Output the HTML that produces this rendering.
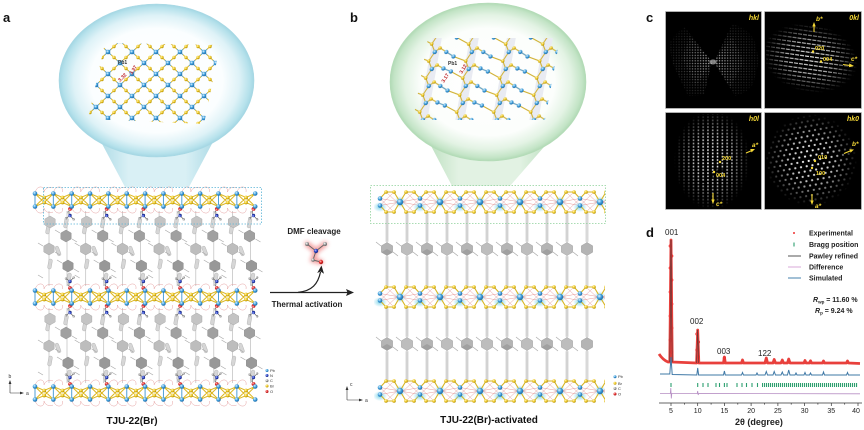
<!DOCTYPE html>
<html><head><meta charset="utf-8"><style>
html,body{margin:0;padding:0;background:#fff;}
svg{display:block;}
</style></head><body>
<svg xmlns="http://www.w3.org/2000/svg" width="864" height="430" viewBox="0 0 864 430" font-family="'Liberation Sans', Arial, sans-serif">
<defs>
<radialGradient id="gPb" cx="0.38" cy="0.35" r="0.7"><stop offset="0" stop-color="#e0f4ff"/><stop offset="0.5" stop-color="#3f9fdc"/><stop offset="1" stop-color="#1a64a0"/></radialGradient>
<radialGradient id="gBr" cx="0.38" cy="0.35" r="0.7"><stop offset="0" stop-color="#fff8c0"/><stop offset="0.5" stop-color="#efc824"/><stop offset="1" stop-color="#a88600"/></radialGradient>
<radialGradient id="gO" cx="0.38" cy="0.35" r="0.7"><stop offset="0" stop-color="#ffc0c0"/><stop offset="0.5" stop-color="#e02828"/><stop offset="1" stop-color="#9a1010"/></radialGradient>
<radialGradient id="gN" cx="0.38" cy="0.35" r="0.7"><stop offset="0" stop-color="#b8c4ff"/><stop offset="0.5" stop-color="#2b44c4"/><stop offset="1" stop-color="#141f70"/></radialGradient>
<radialGradient id="gC" cx="0.38" cy="0.35" r="0.7"><stop offset="0" stop-color="#ffffff"/><stop offset="0.5" stop-color="#a0a0a0"/><stop offset="1" stop-color="#5c5c5c"/></radialGradient>
<radialGradient id="gGlow"><stop offset="0" stop-color="#6fd0e6" stop-opacity="0.85"/><stop offset="1" stop-color="#6fd0e6" stop-opacity="0"/></radialGradient>
<radialGradient id="bubA" cx="0.5" cy="0.5" r="0.5"><stop offset="0" stop-color="#ffffff"/><stop offset="0.68" stop-color="#fbfeff"/><stop offset="0.85" stop-color="#def2f7"/><stop offset="0.96" stop-color="#b5e1eb"/><stop offset="1" stop-color="#a3d6e3"/></radialGradient>
<radialGradient id="bubB" cx="0.5" cy="0.5" r="0.5"><stop offset="0" stop-color="#ffffff"/><stop offset="0.68" stop-color="#fcfefc"/><stop offset="0.85" stop-color="#e3f3e4"/><stop offset="0.96" stop-color="#c3e4c6"/><stop offset="1" stop-color="#b0d9b4"/></radialGradient>
<linearGradient id="tailA" x1="0" y1="0" x2="1" y2="0"><stop offset="0" stop-color="#aedbe6"/><stop offset="0.25" stop-color="#d9f0f5"/><stop offset="0.75" stop-color="#d9f0f5"/><stop offset="1" stop-color="#aedbe6"/></linearGradient>
<linearGradient id="tailB" x1="0" y1="0" x2="1" y2="0"><stop offset="0" stop-color="#bde0c0"/><stop offset="0.25" stop-color="#e2f2e3"/><stop offset="0.75" stop-color="#e2f2e3"/><stop offset="1" stop-color="#bde0c0"/></linearGradient>
<radialGradient id="fade"><stop offset="0" stop-color="#fff"/><stop offset="0.5" stop-color="#bbb"/><stop offset="1" stop-color="#000"/></radialGradient>
<radialGradient id="fade2"><stop offset="0" stop-color="#fff"/><stop offset="0.4" stop-color="#999"/><stop offset="1" stop-color="#222"/></radialGradient>
<filter id="blur" x="-50%" y="-50%" width="200%" height="200%"><feGaussianBlur stdDeviation="2"/></filter>

<path id="hex" d="M0,-6L5.2,-3L5.2,3L0,6L-5.2,3L-5.2,-3Z"/>
<path id="hexB" d="M0,-6.5L5.63,-3.25L5.63,3.25L0,6.5L-5.63,3.25L-5.63,-3.25Z"/>
<rect id="cap" x="-1.8" y="-5" width="3.6" height="10" rx="1.8"/>

<!-- bubble a lattice -->
<pattern id="pA" patternUnits="userSpaceOnUse" width="24" height="22" x="108" y="52">
<path d="M0,0L24,22M24,0L0,22" stroke="#d5b225" stroke-width="1"/>
<path d="M0,0L3,2.75M12,11L9,8.25M12,11L15,13.75M24,22L21,19.25M24,0L21,2.75M12,11L15,8.25M12,11L9,13.75M0,22L3,19.25" stroke="#5aa5da" stroke-width="1"/>
<circle cx="6" cy="5.5" r="1.7" fill="url(#gBr)"/><circle cx="18" cy="5.5" r="1.7" fill="url(#gBr)"/>
<circle cx="6" cy="16.5" r="1.7" fill="url(#gBr)"/><circle cx="18" cy="16.5" r="1.7" fill="url(#gBr)"/>
<circle cx="0" cy="0" r="2.3" fill="url(#gPb)"/><circle cx="24" cy="0" r="2.3" fill="url(#gPb)"/>
<circle cx="0" cy="22" r="2.3" fill="url(#gPb)"/><circle cx="24" cy="22" r="2.3" fill="url(#gPb)"/>
<circle cx="12" cy="11" r="2.3" fill="url(#gPb)"/>
</pattern>

<!-- bubble b lattice -->
<pattern id="pB" patternUnits="userSpaceOnUse" width="37" height="34" x="436.5" y="40" patternTransform="skewX(-10)">
<rect x="3" y="0" width="9" height="34" fill="#e9ebf2"/>
<path d="M3,4L7.5,12L12,8M7.5,12L3,21L7.5,29L12,25M7.5,29L3,38M7.5,-5L3,4" stroke="#cfae2c" stroke-width="1" fill="none"/>
<path d="M12,8L19,12L27,16.5L40,21M-25,8L-18,12L-10,16.5L3,21M12,25L19,28.5L27,31.5L40,38M-25,-9L-18,-5.5L-10,-2.5L3,4M27,-2.5L40,4" stroke="#cfae2c" stroke-width="1" fill="none"/>
<path d="M19,12L27,16.5M19,28.5L27,31.5" stroke="#5a9fd3" stroke-width="1"/>
<circle cx="3" cy="4" r="1.7" fill="url(#gBr)"/><circle cx="12" cy="8" r="1.7" fill="url(#gBr)"/>
<circle cx="3" cy="21" r="1.7" fill="url(#gBr)"/><circle cx="12" cy="25" r="1.7" fill="url(#gBr)"/>
<circle cx="7.5" cy="12" r="2.2" fill="url(#gPb)"/><circle cx="7.5" cy="29" r="2.2" fill="url(#gPb)"/>
<circle cx="19" cy="12" r="2.1" fill="url(#gPb)"/><circle cx="27" cy="16.5" r="2.1" fill="url(#gPb)"/>
<circle cx="19" cy="28.5" r="2.1" fill="url(#gPb)"/><circle cx="27" cy="31.5" r="2.1" fill="url(#gPb)"/>
</pattern>

<!-- panel c patterns -->
<pattern id="pDot" patternUnits="userSpaceOnUse" width="2.7" height="2.7"><circle cx="1.35" cy="1.35" r="0.7" fill="#fff"/></pattern>
<pattern id="pStreak" patternUnits="userSpaceOnUse" width="5" height="4.2" patternTransform="rotate(8)"><rect x="0" y="1.6" width="4" height="1.1" fill="#fff"/></pattern>
<pattern id="pCol" patternUnits="userSpaceOnUse" width="4.8" height="3.3"><rect x="1.6" y="0.7" width="1.5" height="1.8" fill="#fff"/></pattern>
<pattern id="pHex" patternUnits="userSpaceOnUse" width="5.8" height="9.8" patternTransform="rotate(-10)">
<circle cx="0" cy="0" r="1.15" fill="#fff"/><circle cx="5.8" cy="0" r="1.15" fill="#fff"/><circle cx="2.9" cy="4.9" r="1.15" fill="#fff"/><circle cx="0" cy="9.8" r="1.15" fill="#fff"/><circle cx="5.8" cy="9.8" r="1.15" fill="#fff"/>
</pattern>
<mask id="mK"><ellipse cx="810" cy="58" rx="48" ry="34" transform="rotate(12 810 58)" fill="url(#fade)"/></mask>
<mask id="mH"><ellipse cx="712" cy="160" rx="38" ry="50" fill="url(#fade)"/></mask>
<mask id="mZ"><circle cx="811" cy="160" r="46" fill="url(#fade)"/></mask>
<mask id="mX"><ellipse cx="713" cy="61" rx="48" ry="42" fill="url(#fade2)"/></mask>

<!-- panel a cells -->
<g id="aB">
<path d="M4,-6.5C5,-15 14,-15 13,-8M22.35,-6.5C23,-15 33,-15 31.5,-8M13,-8C14,-12 19,-14 22,-12M4,6.5C5,15 14,15 13,8M22.35,6.5C23,15 33,15 31.5,8M13,8C14,12 19,14 22,12" fill="none" stroke="#e6a0a0" stroke-width="0.5"/>
<path d="M4,-6.5L13.2,-2.5L22.35,-6.5L31.5,-2.5L40.7,-6.5M4,6.5L13.2,2.5L22.35,6.5L31.5,2.5L40.7,6.5M4,-6.5L13.2,2.5L22.35,-6.5L31.5,2.5L40.7,-6.5M4,6.5L13.2,-2.5L22.35,6.5L31.5,-2.5L40.7,6.5" fill="none" stroke="#dcb723" stroke-width="1"/>
<path d="M4,-6.5V6.5M22.35,-6.5V6.5" stroke="#4f9fd6" stroke-width="1"/>
</g>
<g id="aA">
<circle cx="13.2" cy="-2.5" r="1.9" fill="url(#gBr)"/><circle cx="13.2" cy="2.5" r="1.9" fill="url(#gBr)"/>
<circle cx="31.5" cy="-2.5" r="1.9" fill="url(#gBr)"/><circle cx="31.5" cy="2.5" r="1.9" fill="url(#gBr)"/>
<circle cx="4" cy="-6.5" r="2.3" fill="url(#gPb)"/><circle cx="4" cy="6.5" r="2.3" fill="url(#gPb)"/>
<circle cx="22.35" cy="-6.5" r="2.3" fill="url(#gPb)"/><circle cx="22.35" cy="6.5" r="2.3" fill="url(#gPb)"/>
</g>
<g id="aRow">
<use href="#aB" x="31"/><use href="#aB" x="67.7"/><use href="#aB" x="104.4"/><use href="#aB" x="141.1"/><use href="#aB" x="177.8"/><use href="#aB" x="214.5"/>
<use href="#aA" x="31"/><use href="#aA" x="67.7"/><use href="#aA" x="104.4"/><use href="#aA" x="141.1"/><use href="#aA" x="177.8"/><use href="#aA" x="214.5"/>
<circle cx="255.2" cy="-6.5" r="2.3" fill="url(#gPb)"/><circle cx="255.2" cy="6.5" r="2.3" fill="url(#gPb)"/>
</g>
<g id="aO">
<path d="M36,11V86M18,11V86" stroke="#bdbdbd" stroke-width="0.7"/>
<g fill="#d6d6d6" stroke="#adadad" stroke-width="0.4">
<use href="#cap" transform="translate(35,23) rotate(10)"/>
<use href="#cap" transform="translate(38,78) rotate(10)"/>
<use href="#cap" transform="translate(17,29) rotate(10)"/>
<use href="#cap" transform="translate(19,64) rotate(10)"/>
<use href="#cap" transform="translate(27,51) rotate(-20)"/>
</g>
<path d="M29,33L24,30M41,39L46,42M31,63L26,60M43,69L48,72M12,46L7,43M24,52L29,55M12,78L7,75" stroke="#a8a8a8" stroke-width="0.7"/>
<use href="#hex" transform="translate(35,36)" fill="#a0a0a0" stroke="#858585" stroke-width="0.4"/>
<use href="#hex" transform="translate(37,66)" fill="#989898" stroke="#808080" stroke-width="0.4"/>
<use href="#hex" transform="translate(18,49)" fill="#bdbdbd" stroke="#9b9b9b" stroke-width="0.4"/>
<use href="#hex" transform="translate(19,22)" fill="#c4c4c4" stroke="#a0a0a0" stroke-width="0.4"/>
</g>
<g id="aORow">
<use href="#aO" x="31"/><use href="#aO" x="67.7"/><use href="#aO" x="104.4"/><use href="#aO" x="141.1"/><use href="#aO" x="177.8"/><use href="#aO" x="214.5"/>
</g>
<g id="dU">
<path d="M0,-9L-1.6,-12.5L0,-15.5M0,-15.5L-4,-18.5M0,-15.5L3.6,-19.5" stroke="#555" stroke-width="0.6" fill="none"/>
<circle cy="-9" r="1.9" fill="url(#gO)"/>
<circle cx="-1.6" cy="-12.5" r="1.1" fill="url(#gC)"/>
<circle cy="-15.5" r="1.7" fill="url(#gN)"/>
<circle cx="-4" cy="-18.5" r="1.2" fill="url(#gC)"/>
<circle cx="3.6" cy="-19.5" r="1.2" fill="url(#gC)"/>
</g>
<g id="dRow">
<use href="#dU" x="70"/><use href="#dU" x="106.7"/><use href="#dU" x="143.4"/><use href="#dU" x="180.1"/><use href="#dU" x="216.8"/><use href="#dU" x="253.5"/>
</g>

<!-- panel b cells -->
<g id="bB">
<ellipse cx="0" cy="5" rx="7" ry="5" fill="url(#gGlow)"/>
<ellipse cx="20" cy="0" rx="6" ry="6" fill="url(#gGlow)"/>
<path d="M0,-3.5L20,0L40,-3.5M0,3.5L20,0L40,3.5M6,-10L20,3M14,-10L0,3.5M6,10L20,-3M14,10L0,-3.5M26,-10L40,3.5M34,-10L20,3M26,10L40,-3.5M34,10L20,-3" stroke="#e49090" stroke-width="0.45" fill="none"/>
<path d="M0,-3.5L6,-10L14,-10L20,0L26,-10L34,-10L40,-3.5M0,3.5L6,10L14,10L20,0L26,10L34,10L40,3.5" stroke="#d7b424" stroke-width="1.1" fill="none"/>
</g>
<g id="bA">
<circle cx="6" cy="-10" r="1.8" fill="url(#gBr)"/><circle cx="14" cy="-10" r="1.8" fill="url(#gBr)"/><circle cx="26" cy="-10" r="1.8" fill="url(#gBr)"/><circle cx="34" cy="-10" r="1.8" fill="url(#gBr)"/>
<circle cx="6" cy="10" r="1.8" fill="url(#gBr)"/><circle cx="14" cy="10" r="1.8" fill="url(#gBr)"/><circle cx="26" cy="10" r="1.8" fill="url(#gBr)"/><circle cx="34" cy="10" r="1.8" fill="url(#gBr)"/>
<circle cx="0" cy="-3.5" r="2.3" fill="url(#gPb)"/><circle cx="0" cy="3.5" r="2.3" fill="url(#gPb)"/>
<circle cx="20" cy="0" r="3.2" fill="url(#gPb)"/>
</g>
<clipPath id="bclip"><rect x="374" y="-20" width="231" height="40"/></clipPath>
<g id="bRow"><g clip-path="url(#bclip)">
<use href="#bB" x="380"/><use href="#bB" x="420"/><use href="#bB" x="460"/><use href="#bB" x="500"/><use href="#bB" x="540"/><use href="#bB" x="580"/>
<use href="#bA" x="380"/><use href="#bA" x="420"/><use href="#bA" x="460"/><use href="#bA" x="500"/><use href="#bA" x="540"/><use href="#bA" x="580"/>
</g></g>
<g id="bO">
<path d="M7,12V39M7,55V84M27,12V39M27,55V84" stroke="#d9d9d9" stroke-width="3" stroke-linecap="round"/>
<path d="M7,12V39M7,55V84M27,12V39M27,55V84" stroke="#c0c0c0" stroke-width="0.5"/>
<path d="M1,44L-4,40M13,50L18,54M21,44L16,40M33,50L38,54" stroke="#aaa" stroke-width="0.7"/>
<use href="#hexB" transform="translate(7,47)" fill="#b4b4b4" stroke="#979797" stroke-width="0.4"/>
<use href="#hexB" transform="translate(27,47)" fill="#bdbdbd" stroke="#9b9b9b" stroke-width="0.4"/>
<path d="M7,47L12.6,50.25L7,53.5L1.4,50.25Z" fill="#a0a0a0"/>
</g>
<g id="bORow">
<use href="#bO" x="380"/><use href="#bO" x="420"/><use href="#bO" x="460"/><use href="#bO" x="500"/><use href="#bO" x="540"/>
<path d="M587,12V39M587,55V84" stroke="#d9d9d9" stroke-width="3" stroke-linecap="round"/>
<use href="#hexB" transform="translate(587,47)" fill="#b4b4b4" stroke="#979797" stroke-width="0.4"/>
</g>
</defs>

<!-- ================= PANEL A ================= -->
<text x="3" y="22" font-size="13" font-weight="bold" fill="#111">a</text>
<polygon points="100,140 214,140 189,187 125,187" fill="url(#tailA)"/>
<ellipse cx="156.5" cy="80.5" rx="97.5" ry="76.5" fill="url(#bubA)" stroke="#a8d8e4" stroke-width="0.6"/>
<polygon points="105,43 220,45 204,124 88,119" fill="url(#pA)"/>
<text x="118" y="64" font-size="5" font-weight="bold" fill="#333">Pb1</text>
<text transform="translate(120,82) rotate(-45)" font-size="5" font-weight="bold" fill="#c0282d">3.32</text>
<text transform="translate(132,75) rotate(-58)" font-size="5" font-weight="bold" fill="#c0282d">3.37</text>

<use href="#aORow" y="200"/>
<use href="#aORow" y="297"/>
<use href="#dRow" transform="translate(0,297)"/>
<use href="#dRow" transform="translate(0,393)"/>
<use href="#dRow" transform="translate(0,200) scale(1,-1)"/>
<use href="#dRow" transform="translate(0,297) scale(1,-1)"/>
<use href="#aRow" y="200"/>
<use href="#aRow" y="297"/>
<use href="#aRow" y="393"/>
<rect x="43.5" y="187.5" width="218" height="36.5" fill="none" stroke="#5ab4d6" stroke-width="0.8" stroke-dasharray="1.5 1.5"/>

<!-- legend a -->
<g font-size="4" fill="#333">
<circle cx="267" cy="370.5" r="1.5" fill="url(#gPb)"/><text x="270" y="372">Pb</text>
<circle cx="267" cy="375.5" r="1.5" fill="url(#gN)"/><text x="270" y="377">N</text>
<circle cx="267" cy="380.7" r="1.5" fill="url(#gC)"/><text x="270" y="382.2">C</text>
<circle cx="267" cy="386" r="1.5" fill="url(#gBr)"/><text x="270" y="387.5">Br</text>
<circle cx="267" cy="391.5" r="1.5" fill="url(#gO)"/><text x="270" y="393">O</text>
</g>
<g stroke="#333" stroke-width="0.6"><path d="M10,393V383M10,393H21"/></g>
<polygon points="10,380 8.6,384 11.4,384" fill="#333"/><polygon points="24,393 20,391.6 20,394.4" fill="#333"/>
<text x="8.5" y="378" font-size="5" fill="#333">b</text><text x="26" y="395" font-size="5" fill="#333">a</text>
<text x="132" y="424" font-size="10" font-weight="bold" text-anchor="middle" fill="#111">TJU-22(Br)</text>

<!-- ================= MIDDLE ARROW ================= -->
<text x="314" y="234" font-size="8" font-weight="bold" text-anchor="middle" fill="#222">DMF cleavage</text>
<g filter="url(#blur)" opacity="0.8"><path d="M307,244L316,251L325,244M316,251L313,260L321,262" stroke="#f08080" stroke-width="5" fill="none" stroke-linecap="round"/></g>
<path d="M307,244L316,251L325,244M316,251L313,260L321,262" stroke="#666" stroke-width="1" fill="none"/>
<circle cx="307" cy="244" r="2" fill="url(#gC)"/><circle cx="325" cy="244" r="2" fill="url(#gC)"/>
<circle cx="316" cy="251" r="2.2" fill="url(#gN)"/><circle cx="313" cy="260" r="1.8" fill="url(#gC)"/>
<circle cx="321" cy="262" r="2.2" fill="url(#gO)"/>
<path d="M270,292.5H348" stroke="#222" stroke-width="1.3"/>
<polygon points="354,292.5 346,289 347.5,292.5 346,296" fill="#222"/>
<path d="M298,292.3C312,291 318,284 320.5,272" stroke="#222" stroke-width="1.2" fill="none"/>
<polygon points="321.5,265.5 317.2,273 320.6,271.5 324,273.8" fill="#222"/>
<text x="307" y="307" font-size="8" font-weight="bold" text-anchor="middle" fill="#222">Thermal activation</text>

<!-- ================= PANEL B ================= -->
<text x="350" y="22" font-size="13" font-weight="bold" fill="#111">b</text>
<polygon points="428,140 550,140 510,186 452,186" fill="url(#tailB)"/>
<ellipse cx="488" cy="82" rx="98" ry="79" fill="url(#bubB)" stroke="#b5dcb8" stroke-width="0.6"/>
<polygon points="428,38 560,38 545,120 413,120" fill="url(#pB)"/>
<text x="448" y="65" font-size="5" font-weight="bold" fill="#333">Pb1</text>
<text transform="translate(444,83) rotate(-58)" font-size="5" font-weight="bold" fill="#c0282d">3.17</text>
<text transform="translate(462,74) rotate(-60)" font-size="5" font-weight="bold" fill="#c0282d">3.12</text>

<use href="#bORow" y="202"/>
<use href="#bORow" y="297"/>
<use href="#bRow" y="202"/>
<use href="#bRow" y="297"/>
<use href="#bRow" y="391"/>
<rect x="370.5" y="185.5" width="235" height="38" fill="none" stroke="#8fd19a" stroke-width="0.8" stroke-dasharray="1.5 1.5"/>

<g font-size="4" fill="#333">
<circle cx="615" cy="376.7" r="1.5" fill="url(#gPb)"/><text x="618" y="378.2">Pb</text>
<circle cx="615" cy="383.3" r="1.5" fill="url(#gBr)"/><text x="618" y="384.8">Br</text>
<circle cx="615" cy="388.5" r="1.5" fill="url(#gC)"/><text x="618" y="390">C</text>
<circle cx="615" cy="394" r="1.5" fill="url(#gO)"/><text x="618" y="395.5">O</text>
</g>
<g stroke="#333" stroke-width="0.6"><path d="M347,400V389M347,400H360"/></g>
<polygon points="347,386 345.6,390 348.4,390" fill="#333"/><polygon points="363,400 359,398.6 359,401.4" fill="#333"/>
<text x="350" y="386" font-size="5" fill="#333">c</text><text x="365" y="402" font-size="5" fill="#333">a</text>
<text x="489" y="423" font-size="10" font-weight="bold" text-anchor="middle" fill="#111">TJU-22(Br)-activated</text>

<!-- ================= PANEL C ================= -->
<text x="646" y="22" font-size="13" font-weight="bold" fill="#111">c</text>
<g fill="#000" stroke="#bcbcbc" stroke-width="0.8">
<rect x="665.5" y="11.5" width="96" height="97"/>
<rect x="764.5" y="11.5" width="97" height="97"/>
<rect x="665.5" y="112.5" width="96" height="97"/>
<rect x="764.5" y="112.5" width="97" height="97"/>
</g>
<!-- hkl -->
<g mask="url(#mX)">
<g fill="url(#pDot)" opacity="0.55">
<polygon points="712,62 680,21 668,33 672,62 688,96 704,95"/>
<polygon points="714,62 732,24 752,30 759,60 752,90 735,96"/>
</g>
<g fill="url(#pDot)" opacity="0.5">
<polygon points="712,62 690,36 682,58 696,86"/>
<polygon points="714,62 732,36 744,62 730,88"/>
</g>
</g>
<ellipse cx="713" cy="62" rx="3.5" ry="2.5" fill="#fff" opacity="0.5"/>
<!-- 0kl -->
<rect x="766" y="13" width="94" height="94" fill="url(#pStreak)" mask="url(#mK)"/>
<!-- h0l -->
<rect x="667" y="114" width="93" height="94" fill="url(#pCol)" mask="url(#mH)"/>
<path d="M700,182h6v-4h6v-4h6v-4h6" stroke="#000" stroke-width="1.5" fill="none"/>
<!-- hk0 -->
<rect x="766" y="114" width="94" height="94" fill="url(#pHex)" mask="url(#mZ)"/>
<g fill="#f5d836" font-weight="bold">
<g font-size="7" font-style="italic">
<text x="759" y="20" text-anchor="end">hkl</text>
<text x="859" y="20" text-anchor="end">0kl</text>
<text x="759" y="121" text-anchor="end">h0l</text>
<text x="859" y="121" text-anchor="end">hk0</text>
<text x="816" y="21" font-size="6.5">b*</text>
<text x="851" y="61" font-size="6.5">c*</text>
<text x="752" y="147" font-size="6.5">a*</text>
<text x="716" y="206" font-size="6.5">c*</text>
<text x="852" y="146" font-size="6.5">b*</text>
<text x="815" y="208" font-size="6.5">a*</text>
</g>
<g font-size="5.5">
<text x="815" y="50">020</text><text x="823" y="61">004</text>
<text x="722" y="160">200</text><text x="716" y="177">004</text>
<text x="818" y="159">010</text><text x="816" y="175">100</text>
</g>
<circle cx="813" cy="51.5" r="1.2"/><circle cx="821" cy="61.5" r="1.2"/>
<circle cx="720" cy="162" r="1.2"/><circle cx="714" cy="172" r="1.2"/>
<circle cx="815" cy="161" r="1.2"/><circle cx="812" cy="168" r="1.2"/>
</g>
<g stroke="#f5d836" stroke-width="1.1">
<path d="M814,32V26M843,64.5L850,65.5M746,153L752,150.5M713,193V200M844,153.5L850,151M812,194V201"/>
</g>
<g fill="#f5d836">
<polygon points="814,22 812.3,26.5 815.7,26.5"/>
<polygon points="854,66 849.3,63.4 848.8,67.3"/>
<polygon points="755,149 750.2,149 751.6,152.4"/>
<polygon points="713,204 711.3,199.5 714.7,199.5"/>
<polygon points="854,149.5 849.3,149.2 850.6,152.6"/>
<polygon points="812,205 810.3,200.5 813.7,200.5"/>
</g>

<!-- ================= PANEL D ================= -->
<text x="646" y="237" font-size="13" font-weight="bold" fill="#111">d</text>
<g font-size="8" fill="#222">
<text x="665" y="235">001</text>
<text x="690" y="324">002</text>
<text x="717" y="354">003</text>
<text x="758" y="356">122</text>
</g>
<path d="M659,354Q663,360 668,362L669.8,362L671,240L672.2,362L696.6,363L697.7,330L698.8,363L723.5,363L724.4,357L725.3,363L741.5,363L742.5,360L743.5,363L765,363L766.3,358L767.5,363L773,363L774.2,359.5L775.5,363L781,363L782.3,360L783.5,363L787.5,363L788.7,359L790,363L804,363L805,360.5L806,363L809.5,363L810.5,360.8L811.5,363L822.5,363L823.5,361L824.5,363L846.5,363L847.5,361L848.5,363L860,363.5" fill="none" stroke="#e8403c" stroke-width="2.8" stroke-linejoin="round"/>
<g fill="none" stroke="#e33" stroke-width="0.7">
<circle cx="670.3" cy="246" r="1.3"/><circle cx="671.7" cy="256" r="1.3"/><circle cx="670.3" cy="268" r="1.3"/><circle cx="671.7" cy="280" r="1.3"/><circle cx="670.3" cy="292" r="1.3"/><circle cx="671.7" cy="304" r="1.3"/><circle cx="670.3" cy="316" r="1.3"/><circle cx="671.7" cy="328" r="1.3"/><circle cx="670.3" cy="340" r="1.3"/><circle cx="671.7" cy="352" r="1.3"/>
<circle cx="697" cy="334" r="1.3"/><circle cx="698.4" cy="342" r="1.3"/><circle cx="697" cy="350" r="1.3"/><circle cx="698.4" cy="357" r="1.3"/>
<circle cx="724.4" cy="358" r="1.3"/>
</g>
<path d="M669.8,362L671,240L672.2,362M696.6,363L697.7,330L698.8,363" fill="none" stroke="#333" stroke-width="0.5"/>
<path d="M660,374L669.8,374L671,357L672.2,374.5L696.8,375L697.7,368L698.6,375L723.5,375L724.4,371L725.3,375L741.5,375L742.5,372.5L743.5,375L756,375L757,373L758,375L765,375L766.3,371.5L767.5,375L773,375L774.2,371.5L775.5,375L781,375L782.3,372L783.5,375L787.5,375L788.7,370L790,375L795,375L796,373L797,375L804,375L805,372.5L806,375L809.5,375L810.5,373L811.5,375L822.5,375L823.5,372L824.5,375L846.5,375L847.5,372.5L848.5,375L860,375" fill="none" stroke="#3e78a6" stroke-width="1"/>
<g stroke="#2c9f6f" stroke-width="1.1">
<path d="M671,383V387M697.7,383V387M703,383V387M708,383V387M716,383V387M719.5,383V387M724.4,383V387M727,383V387M737,383V387M742,383V387M746.5,383V387M752,383V387M757.5,383V387"/>
</g>
<path d="M762,385H858" stroke="#2c9f6f" stroke-width="4" stroke-dasharray="1.1 0.9"/>
<path d="M660,393.5L670.3,393.5L670.8,388L671.3,398.5L671.8,393.5L697.2,393.5L697.7,391L698.2,395L698.7,393.5L860,393.8" fill="none" stroke="#b78fc4" stroke-width="0.8"/>
<path d="M659,403H862" stroke="#333" stroke-width="0.8"/>
<path d="M671,403v3M697.7,403v3M724.4,403v3M751.1,403v3M777.9,403v3M804.6,403v3M831.3,403v3M858,403v3M684.4,403v1.6M711.1,403v1.6M737.8,403v1.6M764.5,403v1.6M791.2,403v1.6M817.9,403v1.6M844.7,403v1.6" stroke="#333" stroke-width="0.7"/>
<g font-size="7" fill="#222" text-anchor="middle">
<text x="671" y="413">5</text><text x="697.7" y="413">10</text><text x="724.4" y="413">15</text><text x="751.1" y="413">20</text><text x="777.9" y="413">25</text><text x="804.6" y="413">30</text><text x="831.3" y="413">35</text><text x="856" y="413">40</text>
</g>
<text x="759" y="425" font-size="9" font-weight="bold" text-anchor="middle" fill="#222">2θ (degree)</text>
<circle cx="794" cy="233" r="1" fill="#e33"/>
<path d="M794,242.5V246.5" stroke="#2c9f6f" stroke-width="1.1"/>
<path d="M788,256H801" stroke="#555" stroke-width="1"/>
<path d="M788,267H801" stroke="#d9a9d9" stroke-width="1"/>
<path d="M788,278H801" stroke="#6f9fbf" stroke-width="1.3"/>
<g font-size="7" font-weight="bold" fill="#222">
<text x="809" y="235.5">Experimental</text>
<text x="809" y="247">Bragg position</text>
<text x="809" y="258.5">Pawley refined</text>
<text x="809" y="269.5">Difference</text>
<text x="809" y="280.5">Simulated</text>
<text x="813" y="302"><tspan font-style="italic">R</tspan><tspan font-size="4.5" dy="1.5">wp</tspan><tspan dy="-1.5"> = 11.60 %</tspan></text>
<text x="815" y="313"><tspan font-style="italic">R</tspan><tspan font-size="4.5" dy="1.5">p</tspan><tspan dy="-1.5"> = 9.24 %</tspan></text>
</g>
</svg>
</body></html>
